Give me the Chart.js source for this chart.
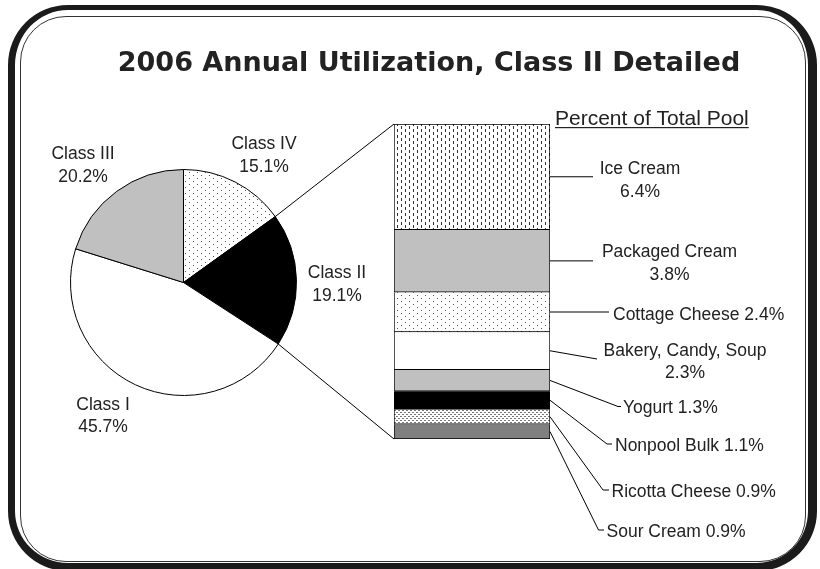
<!DOCTYPE html>
<html>
<head>
<meta charset="utf-8">
<title>2006 Annual Utilization, Class II Detailed</title>
<script src="https://cdn.jsdelivr.net/npm/chart.js@4.4.1/dist/chart.umd.min.js"></script>
<style>
  html, body { margin: 0; padding: 0; background: #fff; }
  #wrap { position: relative; width: 820px; height: 569px; overflow: hidden; background: #fff; }
  #wrap canvas { position: absolute; left: 0; top: 0; }
  .frame-outer {
    position: absolute; left: 8px; top: 5px; width: 809px; height: 566px; box-sizing: border-box;
    border-style: solid; border-color: #1b1b1b; border-width: 5px 9px 8px 7px; border-radius: 60px;
  }
  .frame-inner {
    position: absolute; left: 20px; top: 16px; width: 786px; height: 546px; box-sizing: border-box;
    border: 1px solid #333; border-radius: 46px;
  }
</style>
</head>
<body>
<div id="wrap">
  <div class="frame-outer"></div>
  <div class="frame-inner"></div>
  <canvas id="detail-bar" width="820" height="569"></canvas>
  <canvas id="class-pie" width="820" height="569"></canvas>
</div>
<script>
////////// Data
const titleText = "2006 Annual Utilization, Class II Detailed";
const barHeader = "Percent of Total Pool";

// pie, clockwise from 12 o'clock
const pieLabels = ["Class IV", "Class II", "Class I", "Class III"];
const pieValues = [15.1, 19.1, 45.7, 20.2];

// Class II breakdown, top to bottom
const detailLabels = [
  "Ice Cream",
  "Packaged Cream",
  "Cottage Cheese",
  "Bakery, Candy, Soup",
  "Yogurt",
  "Nonpool Bulk",
  "Ricotta Cheese",
  "Sour Cream",
];
const detailValues = [6.4, 3.8, 2.4, 2.3, 1.3, 1.1, 0.9, 0.9];

const detailIndex = 1; // the slice that is broken out

////////// Fills
function pattern(w, h, fg, marks) {
  const c = document.createElement("canvas");
  c.width = w;
  c.height = h;
  const g = c.getContext("2d");
  g.fillStyle = "#fff";
  g.fillRect(0, 0, w, h);
  g.fillStyle = fg;
  marks.forEach((m) => g.fillRect(m[0], m[1], m[2], m[3]));
  return g.createPattern(c, "repeat");
}

const dashes = pattern(8, 6, "#333", [[1, 0, 1, 3], [5, 3, 1, 3]]);
const sparseDots = pattern(8, 6, "#555", [[1, 1, 1, 1], [5, 4, 1, 1]]);
const fineDots = pattern(4, 4, "#777", [[0, 0, 2, 1], [2, 2, 2, 1]]);

const pieFill = [sparseDots, "#000", "#fff", "#c0c0c0"];
const detailFill = [dashes, "#c0c0c0", sparseDots, "#fff", "#c0c0c0", "#000", fineDots, "#808080"];

////////// Label layout
const labelFont = "17.5px 'Liberation Sans', Arial, sans-serif";

const pieLabelPos = [
  { x: 264, y: [149, 171.5] }, // Class IV
  { x: 337, y: [278, 300.5] }, // Class II
  { x: 103, y: [410, 432] }, // Class I
  { x: 83, y: [159, 181.5] }, // Class III
];

// lead: points after the bar edge, null y = same height as the segment
const detailLabelPos = [
  { x: 640, y: [174, 197], align: "center", lead: [[593, null]] },
  { x: 669.5, y: [257, 280], align: "center", lead: [[593, null]] },
  { x: 613, y: [320], align: "left", lead: [[609, null]] },
  { x: 685, y: [356, 377.5], align: "center", lead: [[597, 359]] },
  { x: 623, y: [413], align: "left", lead: [[618, 406.5], [621, 406.5]] },
  { x: 615, y: [450.5], align: "left", lead: [[607, 444], [612, 444]] },
  { x: 611.5, y: [496.5], align: "left", lead: [[603, 490], [609, 490]] },
  { x: 606.5, y: [537], align: "left", lead: [[598.5, 530], [604, 530]] },
];

const pct = (v) => v.toFixed(1) + "%";

////////// Detail bar (stacked)
const detailLabelsPlugin = {
  id: "detailLabels",
  afterDraw(chart) {
    const ctx = chart.ctx;
    ctx.save();

    // title
    ctx.fillStyle = "#222";
    ctx.font = "bold 27px 'DejaVu Sans', Verdana, sans-serif";
    ctx.textAlign = "center";
    ctx.textBaseline = "alphabetic";
    ctx.fillText(titleText, 429, 71);

    // header, underlined
    ctx.font = "21px 'Liberation Sans', Arial, sans-serif";
    ctx.textAlign = "left";
    ctx.fillText(barHeader, 555, 125);
    const hw = ctx.measureText(barHeader).width;
    ctx.fillRect(555, 127, hw, 1.2);

    // leader lines + labels
    ctx.font = labelFont;
    ctx.strokeStyle = "#000";
    ctx.lineWidth = 1;
    detailLabels.forEach((name, i) => {
      const el = chart.getDatasetMeta(i).data[0];
      const right = el.x + el.width / 2;
      const mid = (el.y + el.base) / 2;
      const pos = detailLabelPos[i];

      ctx.beginPath();
      ctx.moveTo(right, mid);
      pos.lead.forEach((p) => ctx.lineTo(p[0], p[1] === null ? mid : p[1]));
      ctx.stroke();

      ctx.textAlign = pos.align;
      const lines = pos.y.length > 1 ? [name, pct(detailValues[i])] : [name + " " + pct(detailValues[i])];
      lines.forEach((t, k) => ctx.fillText(t, pos.x, pos.y[k]));
    });
    ctx.restore();
  },
};

const detailTotal = pieValues[detailIndex];

const barChart = new Chart(document.getElementById("detail-bar"), {
  type: "bar",
  data: {
    labels: [pieLabels[detailIndex]],
    datasets: detailLabels.map((name, i) => ({
      label: name,
      data: [detailValues[i]],
      backgroundColor: detailFill[i],
      borderColor: "#000",
      borderWidth: 1,
      borderSkipped: i === 0 ? false : "start",
      categoryPercentage: 1,
      barPercentage: 1,
    })),
  },
  options: {
    responsive: false,
    animation: false,
    layout: {
      padding: { left: 394, right: 270, top: 124, bottom: 130 },
    },
    plugins: {
      legend: { display: false },
      tooltip: { enabled: false },
    },
    scales: {
      x: { display: false, stacked: true },
      y: { display: false, stacked: true, reverse: true, min: 0, max: detailTotal },
    },
  },
  plugins: [detailLabelsPlugin],
});

////////// Class pie
const pieLabelsPlugin = {
  id: "pieLabels",
  afterDraw(chart) {
    const ctx = chart.ctx;
    ctx.save();

    // connectors from the Class II slice to the bar corners
    const arc = chart.getDatasetMeta(0).data[detailIndex];
    const top = barChart.getDatasetMeta(0).data[0];
    const bottom = barChart.getDatasetMeta(detailLabels.length - 1).data[0];
    const barLeft = top.x - top.width / 2;
    const barTop = Math.min(top.y, top.base);
    const barBottom = Math.max(bottom.y, bottom.base);

    ctx.strokeStyle = "#000";
    ctx.lineWidth = 1;
    ctx.beginPath();
    ctx.moveTo(arc.x + arc.outerRadius * Math.cos(arc.startAngle), arc.y + arc.outerRadius * Math.sin(arc.startAngle));
    ctx.lineTo(barLeft, barTop);
    ctx.moveTo(arc.x + arc.outerRadius * Math.cos(arc.endAngle), arc.y + arc.outerRadius * Math.sin(arc.endAngle));
    ctx.lineTo(barLeft, barBottom);
    ctx.stroke();

    // slice labels
    ctx.fillStyle = "#222";
    ctx.font = labelFont;
    ctx.textAlign = "center";
    ctx.textBaseline = "alphabetic";
    pieLabels.forEach((name, i) => {
      const pos = pieLabelPos[i];
      ctx.fillText(name, pos.x, pos.y[0]);
      ctx.fillText(pct(pieValues[i]), pos.x, pos.y[1]);
    });
    ctx.restore();
  },
};

const pieChart = new Chart(document.getElementById("class-pie"), {
  type: "pie",
  data: {
    labels: pieLabels,
    datasets: [
      {
        data: pieValues,
        backgroundColor: pieFill,
        borderColor: "#000",
        borderWidth: 1,
      },
    ],
  },
  options: {
    responsive: false,
    animation: false,
    layout: {
      padding: { left: 70, right: 523, top: 169, bottom: 173 },
    },
    plugins: {
      legend: { display: false },
      tooltip: { enabled: false },
    },
  },
  plugins: [pieLabelsPlugin],
});
</script>
</body>
</html>
